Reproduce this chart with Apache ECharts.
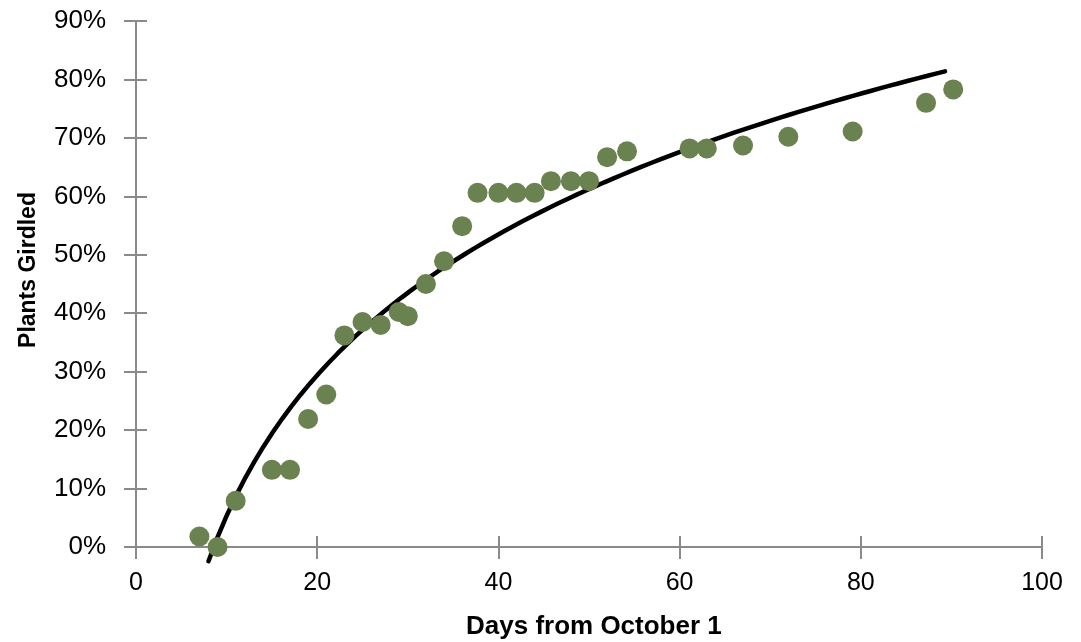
<!DOCTYPE html>
<html>
<head>
<meta charset="utf-8">
<script src="https://cdn.jsdelivr.net/npm/echarts@6/dist/echarts.min.js"></script>
<style>html,body{margin:0;padding:0;background:#fff}#c{width:1081px;height:642px}</style>
</head>
<body>
<div id="c"></div>
<script>
// Observed data: days from October 1 and % plants girdled
const days = [7, 9, 11, 15, 17, 19, 21, 23, 25, 27, 29, 30, 32, 34, 36, 37.7, 40, 42, 44, 45.8, 48, 50, 52, 54.2, 61.1, 63, 67, 72, 79.1, 87.2, 90.2];
const girdled = [1.8, 0, 7.9, 13.2, 13.2, 21.9, 26.1, 36.2, 38.5, 38.0, 40.2, 39.5, 45.0, 48.9, 54.9, 60.6, 60.6, 60.6, 60.6, 62.6, 62.6, 62.6, 66.7, 67.7, 68.2, 68.2, 68.7, 70.2, 71.1, 76.0, 78.3];
// Trendline span
const trendRange = [8.0, 89.3];
const xTicks = [0, 20, 40, 60, 80, 100];
const yTicks = [0, 10, 20, 30, 40, 50, 60, 70, 80, 90];
const xTitle = 'Days from October 1';
const yTitle = 'Plants Girdled';

// Logarithmic least-squares fit (as the spreadsheet trendline)
function logFit(xs, ys) {
  const n = xs.length;
  let sl = 0, sy = 0, sll = 0, sly = 0;
  for (let i = 0; i < n; i++) {
    const l = Math.log(xs[i]);
    sl += l; sy += ys[i]; sll += l * l; sly += l * ys[i];
  }
  const a = (n * sly - sl * sy) / (n * sll - sl * sl);
  const b = (sy - a * sl) / n;
  return { a, b };
}
const fit = logFit(days, girdled);
const trend = [];
const steps = 80;
for (let i = 0; i <= steps; i++) {
  const x = trendRange[0] + (trendRange[1] - trendRange[0]) * i / steps;
  trend.push([x, fit.a * Math.log(x) + fit.b]);
}

const axisGrey = '#8a8a8a';
const font = '"Liberation Sans", Arial, Helvetica, sans-serif';
const chart = echarts.init(document.getElementById('c'), null, { renderer: 'canvas' });
chart.setOption({
  animation: false,
  backgroundColor: '#fff',
  grid: { left: 136, right: 39, top: 21, bottom: 95, containLabel: false },
  xAxis: [{
    type: 'value', min: xTicks[0], max: xTicks[xTicks.length - 1], interval: 20,
    position: 'bottom',
    axisLine: { show: true, onZero: false, lineStyle: { color: axisGrey, width: 2 } },
    axisTick: { show: true, length: 12, lineStyle: { color: axisGrey, width: 2 } },
    axisLabel: { margin: 24, fontSize: 25, color: '#000', fontFamily: font },
    splitLine: { show: false }
  }, {
    type: 'value', min: xTicks[0], max: xTicks[xTicks.length - 1], interval: 20,
    position: 'bottom', gridIndex: 0,
    axisLine: { show: false },
    axisTick: { show: true, inside: true, length: 11, lineStyle: { color: axisGrey, width: 2 } },
    axisLabel: { show: false }, splitLine: { show: false }
  }],
  yAxis: [{
    type: 'value', min: yTicks[0], max: yTicks[yTicks.length - 1], interval: 10,
    axisLine: { show: true, onZero: false, lineStyle: { color: axisGrey, width: 2 } },
    axisTick: { show: true, length: 12, lineStyle: { color: axisGrey, width: 2 } },
    axisLabel: { margin: 30, fontSize: 26, color: '#000', fontFamily: font, formatter: '{value}%' },
    splitLine: { show: false }
  }, {
    type: 'value', min: yTicks[0], max: yTicks[yTicks.length - 1], interval: 10,
    position: 'left', gridIndex: 0,
    axisLine: { show: false },
    axisTick: { show: true, inside: true, length: 11, lineStyle: { color: axisGrey, width: 2 } },
    axisLabel: { show: false }, splitLine: { show: false }
  }],
  graphic: [{
    type: 'text', left: 466, top: 614,
    style: { text: xTitle, font: 'bold 26px ' + font, fill: '#000' }
  }, {
    type: 'text', x: 29, y: 270, rotation: Math.PI / 2,
    style: { text: yTitle, font: 'bold 23px ' + font, fill: '#000', align: 'center', verticalAlign: 'middle' }
  }],
  series: [{
    type: 'line',
    data: trend,
    showSymbol: false, symbol: 'none', smooth: false,
    clip: false,
    lineStyle: { color: '#000', width: 4.5, cap: 'round' },
    z: 2
  }, {
    type: 'scatter',
    data: days.map((d, i) => [d, girdled[i]]),
    symbol: 'circle', symbolSize: 20,
    itemStyle: { color: '#6a8150', opacity: 1 },
    clip: false,
    z: 3
  }]
});
</script>
</body>
</html>
